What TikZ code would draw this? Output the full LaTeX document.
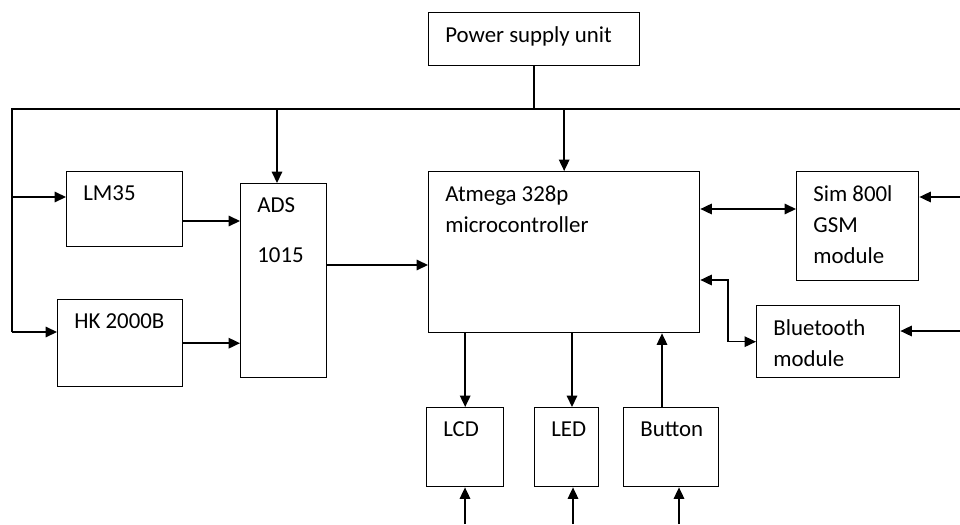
\documentclass[tikz,border=0pt]{standalone}
\usepackage{fontspec}
\setmainfont{Carlito}
\usetikzlibrary{arrows.meta, positioning, calc}

\begin{document}
\begin{tikzpicture}[
    x=0.02cm, y=-0.02cm,
    font=\fontsize{13}{17.5}\selectfont,
    unit/.style={draw, rectangle, line width=0.8pt, anchor=north west, inner sep=0pt},
    tag/.style={label={[anchor=north west, inner sep=0pt, align=left, xshift=0.34cm, yshift=-0.29cm]north west:#1}},
    wire/.style={line width=0.8pt},
    arrow/.style={-{Triangle[length=6.5pt, width=6pt]}, line width=0.8pt},
    twoway/.style={{Triangle[length=6.5pt, width=6pt]}-{Triangle[length=6.5pt, width=6pt]}, line width=0.8pt}
]
    \useasboundingbox (0,0) rectangle (960,524);

    % Blocks
    \node[unit, minimum width=4.22cm, minimum height=1.06cm, tag={Power supply unit}] (psu) at (428,12) {};
    \node[unit, minimum width=2.32cm, minimum height=1.5cm, tag={LM35}] (lm) at (66,171) {};
    \node[unit, minimum width=2.5cm, minimum height=1.74cm, tag={HK 2000B}] (hk) at (57,299) {};
    \node[unit, minimum width=1.72cm, minimum height=3.88cm, tag={ADS\\[11pt]1015}] (ads) at (240,183) {};
    \node[unit, minimum width=5.42cm, minimum height=3.22cm, tag={Atmega 328p\\microcontroller}] (mcu) at (428,171) {};
    \node[unit, minimum width=2.44cm, minimum height=2.18cm, tag={Sim 800l\\GSM\\module}] (gsm) at (796,171) {};
    \node[unit, minimum width=2.86cm, minimum height=1.44cm, tag={Bluetooth\\module}] (bt) at (756,305) {};
    \node[unit, minimum width=1.54cm, minimum height=1.58cm, tag={LCD}] (lcd) at (426,407) {};
    \node[unit, minimum width=1.28cm, minimum height=1.58cm, tag={LED}] (led) at (534,407) {};
    \node[unit, minimum width=1.9cm, minimum height=1.58cm, tag={Button}] (btn) at (623,407) {};

    % Free ends
    \coordinate (busL) at (12,109);
    \coordinate (busR) at (960,109);
    \coordinate (feedL) at (12,332);
    \coordinate (gsmIn) at (960,197);
    \coordinate (btIn) at (960,331);
    \coordinate (lcdIn) at (465,524);
    \coordinate (ledIn) at (573,524);
    \coordinate (btnIn) at (679,524);

    % Supply bus
    \draw[wire] (feedL) -- (busL) -- (busR);
    \draw[wire] (psu.south) -- (psu.south |- busL);
    \draw[arrow] (busL -| 277,0) -- (ads.north -| 277,0);
    \draw[arrow] (mcu.north |- busL) -- (mcu.north);
    \draw[arrow] (busL |- 0,197) -- (lm.west |- 0,197);
    \draw[arrow] (feedL) -- (hk.west |- feedL);

    % Signals
    \draw[arrow] (lm.east |- 0,221) -- (ads.west |- 0,221);
    \draw[arrow] (hk.east) -- (ads.west |- hk.east);
    \draw[arrow] (ads.east |- 0,265) -- (mcu.west |- 0,265);
    \draw[twoway] (mcu.east |- 0,209) -- (gsm.west |- 0,209);
    \draw[twoway] (mcu.east |- 0,280) -- (728,280) |- (bt.west);
    \draw[arrow] (gsmIn) -- (gsm.east |- gsmIn);
    \draw[arrow] (btIn) -- (bt.east |- btIn);

    \draw[arrow] (mcu.south -| lcd.north) -- (lcd.north);
    \draw[arrow] (mcu.south -| 572,0) -- (led.north -| 572,0);
    \draw[arrow] (btn.north -| 662,0) -- (mcu.south -| 662,0);

    \draw[arrow] (lcdIn) -- (lcd.south -| lcdIn);
    \draw[arrow] (ledIn) -- (led.south -| ledIn);
    \draw[arrow] (btnIn) -- (btn.south -| btnIn);
\end{tikzpicture}
\end{document}
